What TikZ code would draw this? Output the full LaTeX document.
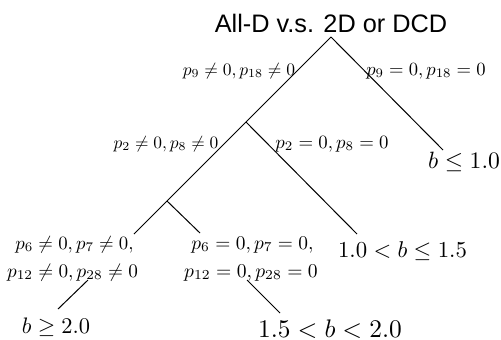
\documentclass[tikz,border=0pt]{standalone}
\usepackage{fontspec}
\newfontfamily\titlefont{Liberation Sans}
\begin{document}
\begin{tikzpicture}[x=0.5pt,y=-0.5pt,line width=0.5pt,
  lbl/.style={anchor=base,inner sep=0pt,outer sep=0pt},
  branch/.style={draw=black,line width=0.5pt}]
\useasboundingbox (0,0) rectangle (501,339);
% title
\node[lbl] (title) at (331,32) {\titlefont\fontsize{12.65pt}{15pt}\selectfont All-D v.s. 2D or DCD};
% tree points
\coordinate (root) at (331,37);
\coordinate (na) at (246,122);
\coordinate (nb) at (167,201);
\coordinate (ll) at (134,234);
\coordinate (rr) at (443,150);
\coordinate (ar) at (357,234);
\coordinate (br) at (200,233);
\coordinate (c1) at (88,280);
\coordinate (c2) at (58,309);
\coordinate (d1) at (247,280);
\coordinate (d2) at (280,313);
\draw[branch] (root) -- (na) -- (nb) -- (ll);
\draw[branch] (root) -- (rr);
\draw[branch] (na) -- (ar);
\draw[branch] (nb) -- (br);
\draw[branch] (c1) -- (c2);
\draw[branch] (d1) -- (d2);
% edge labels
\node[lbl,scale=0.875] (e9n) at (239,75) {$p_9\neq0,p_{18}\neq0$};
\node[lbl,scale=0.93] (e9e) at (426,75) {$p_9=0,p_{18}=0$};
\node[lbl,scale=0.87] (e2n) at (166,148) {$p_2\neq0,p_8\neq0$};
\node[lbl,scale=0.94] (e2e) at (332,148) {$p_2=0,p_8=0$};
\node[lbl,scale=0.94] (e6n) at (74.5,249) {$p_6\neq0,p_7\neq0,$};
\node[lbl,scale=0.96] (e12n) at (72.5,277) {$p_{12}\neq0,p_{28}\neq0$};
\node[lbl,scale=0.97] (e6e) at (252.5,249) {$p_6=0,p_7=0,$};
\node[lbl,scale=0.98] (e12e) at (251,277) {$p_{12}=0,p_{28}=0$};
% leaves
\node[lbl,scale=1.18] (leafa) at (464,168) {$b\leq1.0$};
\node[lbl,scale=1.14] (leafb) at (402.5,257) {$1.0<b\leq1.5$};
\node[lbl,scale=1.27] (leafc) at (330,337) {$1.5<b<2.0$};
\node[lbl,scale=1.12] (leafd) at (56,333) {$b\geq2.0$};
\end{tikzpicture}
\end{document}
